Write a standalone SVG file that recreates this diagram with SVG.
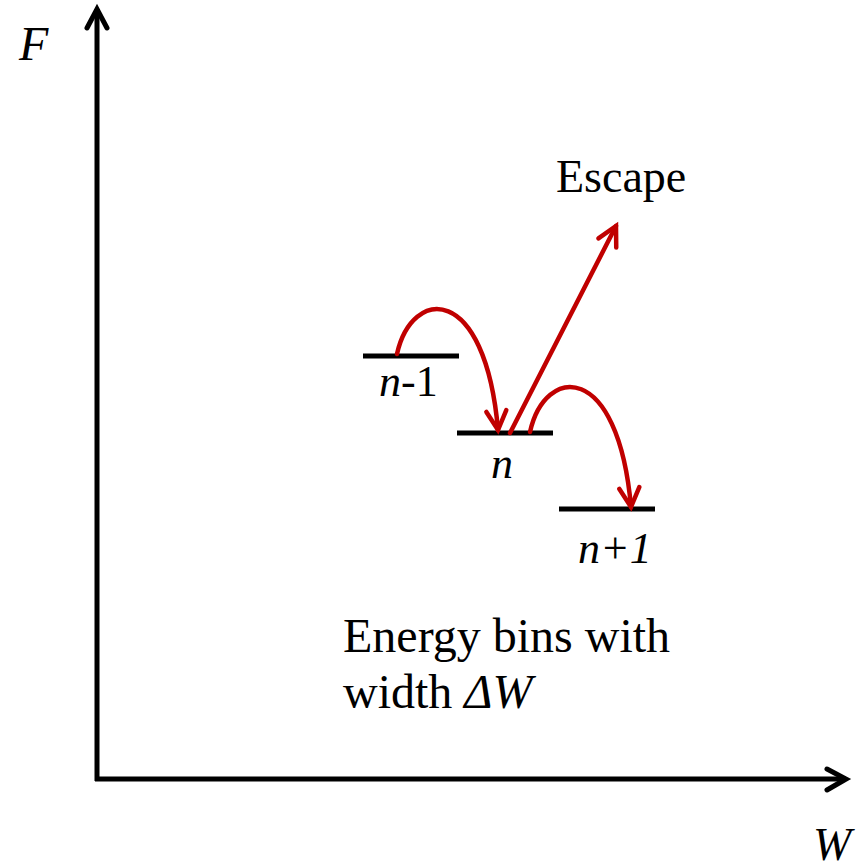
<svg xmlns="http://www.w3.org/2000/svg" width="867" height="866" viewBox="0 0 867 866">
  <style>
    .txt { font-family: "Liberation Serif", "Times New Roman", serif; fill: #000; }
    .it { font-style: italic; }
    .axis { stroke: #000; stroke-width: 5; fill: none; }
    .bar { stroke: #000; stroke-width: 5; fill: none; }
    .red { stroke: #C00000; stroke-width: 4.5; fill: none; stroke-linecap: round; }
  </style>
  <defs>
    <marker id="redhead" markerUnits="userSpaceOnUse" markerWidth="40" markerHeight="40" refX="0" refY="0" viewBox="-20 -20 40 40" orient="auto" overflow="visible">
      <path d="M-19,-10 L0,0 L-19,10" stroke="#C00000" stroke-width="4.5" fill="none" stroke-linecap="round" stroke-linejoin="miter"/>
    </marker>
  </defs>
  <rect width="867" height="866" fill="#fff"/>

  <g id="axes">
    <path class="axis" d="M97,781 L97,9"/>
    <path class="axis" d="M87,28 L97,9 L107,28" stroke-linecap="round"/>
    <path class="axis" d="M95,779 L846,779"/>
    <path class="axis" d="M827,769 L846,779 L827,790" stroke-linecap="round"/>
    <text class="txt it" x="19" y="60" font-size="48">F</text>
    <text class="txt it" x="813" y="860" font-size="46">W</text>
  </g>

  <g id="bin-n-1">
    <line class="bar" x1="363" y1="356" x2="459" y2="356"/>
    <text class="txt" x="379" y="396" font-size="44"><tspan class="it">n</tspan>-1</text>
  </g>
  <g id="bin-n">
    <line class="bar" x1="457" y1="433" x2="553" y2="433"/>
    <text class="txt it" x="491" y="478" font-size="44">n</text>
  </g>
  <g id="bin-n+1">
    <line class="bar" x1="559" y1="509" x2="655" y2="509"/>
    <text class="txt it" x="578" y="563" font-size="44">n+1</text>
  </g>
  <g id="escape">
    <text class="txt" x="556" y="192" font-size="46">Escape</text>
  </g>
  <g id="note">
    <text class="txt" x="343" y="652" font-size="48">Energy bins with</text>
    <text class="txt" x="343" y="708" font-size="48">width <tspan class="it">ΔW</tspan></text>
  </g>

  <g id="connectors">
    <path class="red" d="M397,354 C412,287 485,282 498,430" marker-end="url(#redhead)"/>
    <path class="red" d="M530,432 C545,365 618,360 631,507" marker-end="url(#redhead)"/>
    <path class="red" d="M510,433 L616,226" marker-end="url(#redhead)"/>
  </g>
</svg>
